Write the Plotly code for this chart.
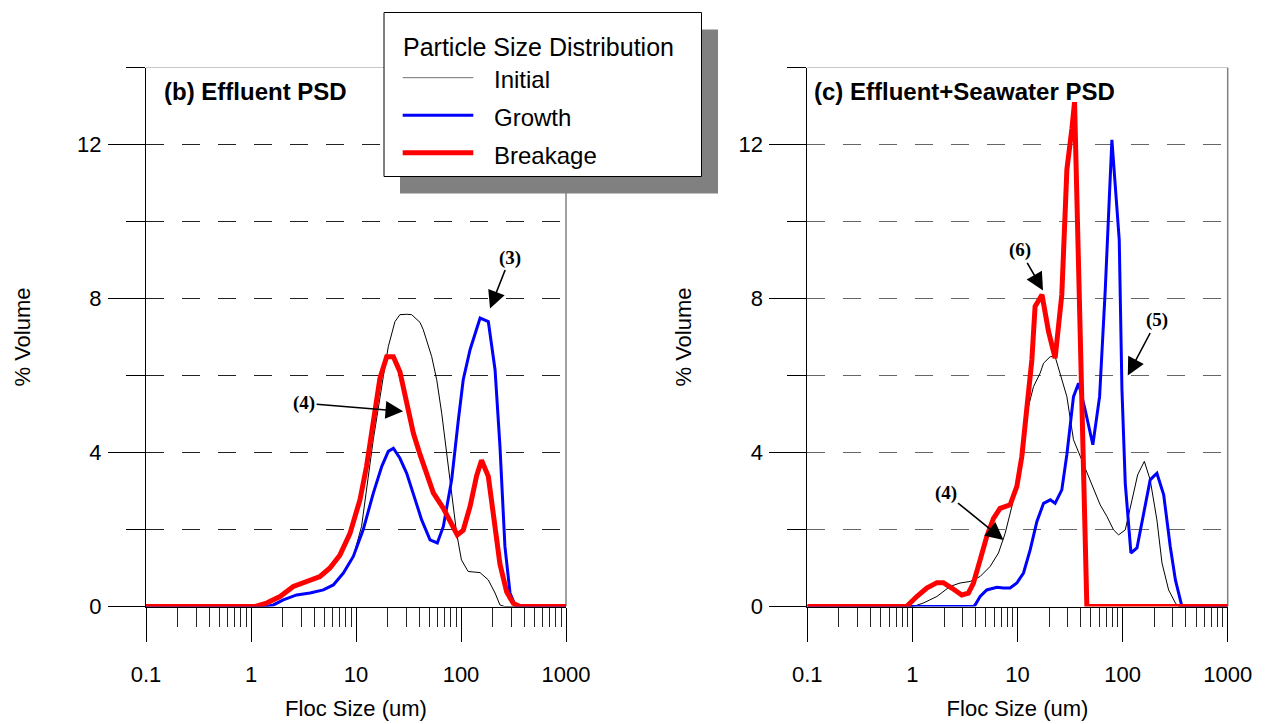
import math
import plotly.graph_objects as go

# ---------------- data ----------------
# Panel (b) Effluent PSD
b_init_x = [0.1, 1.41, 1.63, 2.03, 2.72, 3.65, 4.89, 6.08, 7.58, 9.43, 11.3, 14.6, 18.2, 20.3, 23.5, 26.2,
            30.4, 33.9, 40.7, 43.7, 52.6, 58.7, 65.5, 73.0, 81.5, 90.9, 101, 117, 152, 182, 211, 235, 260, 1000]
b_init_y = [0, 0, 0.04, 0.17, 0.30, 0.35, 0.43, 0.56, 0.87, 1.30, 2.08, 4.33, 5.97, 6.75, 7.40, 7.58,
            7.59, 7.58, 7.38, 7.19, 6.49, 5.89, 5.02, 3.98, 2.94, 1.90, 1.21, 0.91, 0.88, 0.69, 0.35, 0.04, 0, 0]

b_grow_x = [0.1, 1.41, 1.63, 2.03, 2.72, 3.65, 4.89, 6.08, 7.58, 9.43, 11.7, 14.6, 17.6, 20.3, 22.7, 26.2,
            30.4, 35.2, 42.2, 50.7, 59.5, 67.9, 81.5, 94.4, 105, 122, 152, 182, 211, 235, 262, 293, 327, 365, 1000]
b_grow_y = [0, 0, 0.04, 0.17, 0.30, 0.35, 0.43, 0.56, 0.87, 1.30, 1.99, 2.94, 3.64, 4.03, 4.11, 3.85,
            3.46, 2.94, 2.25, 1.73, 1.65, 2.08, 3.29, 4.85, 5.89, 6.67, 7.49, 7.40, 6.15, 4.16, 1.56, 0.35, 0.04, 0, 0]

b_brk_x = [0.1, 1.1, 1.41, 1.89, 2.53, 3.39, 4.54, 5.65, 7.04, 8.77, 10.9, 12.6, 14.6, 16.9, 19.6, 22.7,
           26.2, 30.4, 35.2, 40.7, 47.1, 54.5, 67.9, 84.5, 92.2, 105, 122, 141, 157, 182, 203, 235, 272, 315, 365, 1000]
b_brk_y = [0, 0, 0.09, 0.26, 0.52, 0.65, 0.78, 1.0, 1.34, 1.9, 2.77, 3.64, 4.76, 5.93, 6.49, 6.49,
           6.1, 5.3, 4.5, 3.95, 3.4, 2.95, 2.55, 2.1, 1.86, 1.98, 2.6, 3.4, 3.8, 3.38, 2.5, 1.1, 0.38, 0.08, 0, 0]

# Panel (c) Effluent+Seawater PSD
c_init_x = [0.1, 1.02, 1.27, 1.71, 2.28, 2.84, 3.54, 4.41, 5.49, 6.59, 7.63, 8.84, 10.2, 11.4, 12.7, 14.2,
            16.4, 17.7, 20.5, 22.8, 25.5, 29.5, 34.1, 45.7, 52.9, 61.2, 70.9, 82.0, 91.5, 106, 123, 139,
            161, 183, 212, 237, 274, 318, 341, 1000]
c_init_y = [0, 0, 0.09, 0.26, 0.52, 0.61, 0.65, 0.78, 1.04, 1.39, 1.90, 2.60, 3.46, 4.33, 5.19, 5.71,
            6.06, 6.32, 6.49, 6.49, 6.06, 5.45, 4.33, 3.46, 3.03, 2.64, 2.34, 1.99, 1.86, 1.99, 2.77, 3.42,
            3.77, 3.29, 2.25, 1.13, 0.43, 0.09, 0, 0]

c_grow_x = [0.1, 3.81, 3.95, 4.41, 5.10, 6.36, 7.36, 8.51, 9.86, 11.4, 13.2, 15.3, 17.7, 20.5, 22.8, 26.4,
            29.5, 34.1, 38.1, 44.0, 52.1, 60.4, 68.4, 79.1, 92.9, 98.6, 106, 120, 137, 159, 183, 212,
            246, 284, 318, 367, 1000]
c_grow_y = [0, 0, 0.04, 0.26, 0.43, 0.50, 0.48, 0.48, 0.61, 0.87, 1.47, 2.21, 2.68, 2.77, 2.68, 3.03,
            3.95, 5.45, 5.80, 5.11, 4.20, 5.45, 8.23, 12.12, 9.52, 5.63, 3.20, 1.39, 1.52, 2.42, 3.29, 3.46,
            2.90, 1.56, 0.69, 0, 0]

c_brk_x = [0.1, 0.88, 1.10, 1.37, 1.71, 1.97, 2.37, 2.95, 3.41, 3.81, 4.41, 5.10, 5.91, 6.83, 8.51, 9.86,
           11.0, 12.3, 13.7, 14.7, 17.1, 19.7, 22.8, 26.4, 29.5, 32.9, 34.9, 45.7, 1000]
c_brk_y = [0, 0, 0.26, 0.48, 0.62, 0.62, 0.48, 0.30, 0.35, 0.61, 1.21, 1.82, 2.29, 2.55, 2.64, 3.12,
           3.90, 5.19, 6.41, 7.79, 8.10, 7.15, 6.45, 8.1, 11.35, 12.4, 13.1, 0, 0]

x_major = [0.1, 1, 10, 100, 1000]
x_major_text = ["0.1", "1", "10", "100", "1000"]
x_minor = [k * 10 ** e for e in range(-1, 3) for k in range(2, 10)]
y_major = [0, 4, 8, 12]
y_minor = [2, 6, 10, 14]

series_names = ["Initial", "Growth", "Breakage"]
series_colors = ["black", "#0000FF", "#FF0000"]
series_widths = [1, 3, 5]

# ---------------- figure ----------------
W, H = 1268, 724
FONT = "Liberation Sans, Arial, sans-serif"
SERIF = "Liberation Serif, Times New Roman, serif"

def fx(px):
    return px / W

def fy(py):
    return 1 - py / H

fig = go.Figure()

panels = [
    ("x", "y", [b_init_x, b_grow_x, b_brk_x], [b_init_y, b_grow_y, b_brk_y]),
    ("x2", "y2", [c_init_x, c_grow_x, c_brk_x], [c_init_y, c_grow_y, c_brk_y]),
]
for xa, ya, xs, ys in panels:
    for i in range(3):
        fig.add_trace(go.Scatter(
            x=xs[i], y=ys[i], mode="lines", name=series_names[i],
            line=dict(color=series_colors[i], width=series_widths[i]),
            xaxis=xa, yaxis=ya, showlegend=False))

ydom = [fy(606.5), fy(67.5)]

def make_xaxis(domain, anchor):
    return dict(
        domain=domain, anchor=anchor, type="log", range=[-1, 3], automargin=False,
        tickmode="array", tickvals=x_major, ticktext=x_major_text,
        ticks="outside", ticklen=34, tickwidth=1, tickcolor="black",
        showline=True, linecolor="black", linewidth=1,
        showgrid=False, zeroline=False,
        minor=dict(tickmode="array", tickvals=x_minor, ticks="outside", ticklen=19,
                   tickwidth=1, tickcolor="#222", showgrid=False),
        tickfont=dict(family=FONT, size=22, color="black"),
        ticklabelstandoff=14,
        title=dict(text="Floc Size (um)", font=dict(family=FONT, size=22, color="black"), standoff=14),
    )

def make_yaxis(anchor, gc):
    return dict(
        domain=ydom, anchor=anchor, range=[0, 14], automargin=False,
        tickmode="array", tickvals=y_major,
        ticks="outside", ticklen=37, tickwidth=1, tickcolor="black",
        showline=True, linecolor="black", linewidth=1,
        showgrid=True, gridcolor=gc, gridwidth=1, griddash="18px,18px",
        zeroline=False,
        minor=dict(tickmode="array", tickvals=y_minor, ticks="outside", ticklen=19,
                   tickwidth=1, tickcolor="black", showgrid=True, gridcolor=gc,
                   gridwidth=1, griddash="18px,18px"),
        tickfont=dict(family=FONT, size=22, color="black"),
        ticklabelstandoff=2,
        title=dict(text="% Volume", font=dict(family=FONT, size=22, color="black"), standoff=40),
    )

fig.update_layout(
    width=W, height=H,
    margin=dict(l=0, r=0, t=0, b=0, autoexpand=False),
    paper_bgcolor="white", plot_bgcolor="white",
    font=dict(family=FONT, color="black"),
    xaxis=make_xaxis([fx(146), fx(566)], "y"),
    yaxis=make_yaxis("x", "#222"),
    xaxis2=make_xaxis([fx(807.3), fx(1227.7)], "y2"),
    yaxis2=make_yaxis("x2", "#666"),
)

shapes = []
# frame: gray top and right borders
for xr, yr in (("x domain", "y"), ("x2 domain", "y2")):
    shapes.append(dict(type="line", xref=xr, yref=yr, x0=1, x1=1, y0=0, y1=14,
                       line=dict(color="#808080", width=1.5), layer="below"))
    shapes.append(dict(type="line", xref=xr, yref=yr, x0=0, x1=1, y0=14, y1=14,
                       line=dict(color="#909090", width=1), layer="below"))

# legend box with shadow
shapes.append(dict(type="rect", xref="paper", yref="paper", x0=fx(400), x1=fx(718),
                   y0=fy(193.5), y1=fy(29.5), fillcolor="#808080", line=dict(width=0), layer="above"))
shapes.append(dict(type="rect", xref="paper", yref="paper", x0=fx(384), x1=fx(701.5),
                   y0=fy(176.5), y1=fy(12.5), fillcolor="white", line=dict(color="black", width=1), layer="above"))
leg_y = [77.7, 115.2, 152.8]
for i in range(3):
    shapes.append(dict(type="line", xref="paper", yref="paper", x0=fx(402.7), x1=fx(473.3),
                       y0=fy(leg_y[i]), y1=fy(leg_y[i]),
                       line=dict(color="#707070" if i == 0 else series_colors[i],
                                 width=series_widths[i] if i else 1), layer="above"))
fig.update_layout(shapes=shapes)

ann = []
ann.append(dict(xref="paper", yref="paper", x=fx(401), y=fy(46.5), text="Particle Size Distribution",
                showarrow=False, xanchor="left", yanchor="middle",
                font=dict(family=FONT, size=25, color="black")))
leg_ty = [79.5, 117.0, 155.0]
for i in range(3):
    ann.append(dict(xref="paper", yref="paper", x=fx(492), y=fy(leg_ty[i]), text=series_names[i],
                    showarrow=False, xanchor="left", yanchor="middle",
                    font=dict(family=FONT, size=24, color="black")))

# panel titles
ann.append(dict(xref="paper", yref="paper", x=fx(162), y=fy(91.5), text="<b>(b) Effluent PSD</b>",
                showarrow=False, xanchor="left", yanchor="middle",
                font=dict(family=FONT, size=24, color="black")))
ann.append(dict(xref="paper", yref="paper", x=fx(812), y=fy(91.5), text="<b>(c) Effluent+Seawater PSD</b>",
                showarrow=False, xanchor="left", yanchor="middle",
                font=dict(family=FONT, size=24, color="black")))

# arrow callouts: (label, xref, yref, tip x (um), tip y, ax, ay)
callouts = [
    ("(3)", "x", "y", 189, 7.74, 20, -51),
    ("(4)", "x", "y", 28.1, 5.07, -99, -8),
    ("(6)", "x2", "y2", 17.5, 8.21, -23, -40),
    ("(5)", "x2", "y2", 112, 6.0, 29, -55),
    ("(4)", "x2", "y2", 7.36, 1.73, -58, -47),
]
for lab, xr, yr, tx, ty, ax, ay in callouts:
    ann.append(dict(xref=xr, yref=yr, x=math.log10(tx), y=ty, ax=ax, ay=ay,
                    text="<b>" + lab + "</b>", showarrow=True, arrowhead=2, arrowsize=2.2,
                    arrowwidth=1.6, arrowcolor="black", standoff=0,
                    font=dict(family=SERIF, size=19, color="black")))
fig.update_layout(annotations=ann)

fig.write_html("out.html")
